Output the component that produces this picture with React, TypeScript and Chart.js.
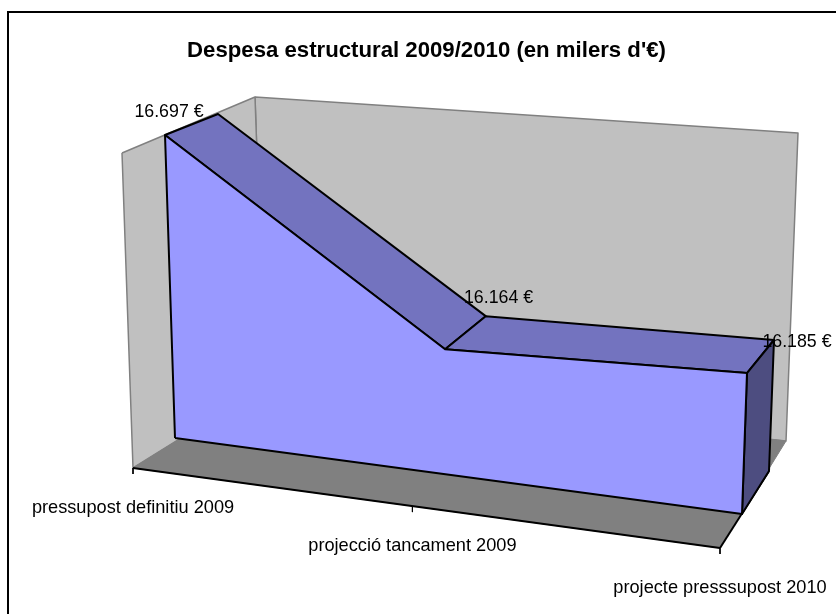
import React, { useEffect, useRef } from "react";
import { Chart, registerables } from "chart.js";

Chart.register(...registerables);

// ---- data ----
const titleText = "Despesa estructural 2009/2010 (en milers d'€)";
const categories = ["pressupost definitiu 2009", "projecció tancament 2009", "projecte presssupost 2010"];
const values = [16697, 16164, 16185];
const valueLabels = ["16.697 €", "16.164 €", "16.185 €"];

// ---- hidden value range of the 3D box ----
const VALUE_BASE = 15825;
const VALUE_TOP = 16800;

// ---- layout of the 3D projection (scale units = page pixels) ----
const CATEGORY_U = [0, 0.476, 1];
const BOX = {
  frontLow: [[175, 438], [742, 514]],
  frontHigh: [[163.82, 99.2], [755.5, 132.2]],
  backLow: [[228, 398], [769, 471]],
  backHigh: [[216.82, 80.4], [782.5, 116.2]],
};
const LABEL_OFFSET = [[4, -23], [53.5, -51], [50, -31]];
const FLOOR_FRONT = [[133, 468], [720, 548]];
const BACK_WALL = [[255, 97], [798, 133], [786, 441], [265, 386]];
const LEFT_WALL = [[122, 153], [255, 97], [265, 386], [133, 468]];
const FLOOR = [[133, 468], [265, 386], [786, 441], [720, 548]];
const FONT = "'Liberation Sans', Arial, sans-serif";

type P = { x: number; y: number };
const lerp = (a: number, b: number, t: number) => a + (b - a) * t;
const lerp2 = (a: number[], b: number[], t: number) => [lerp(a[0], b[0], t), lerp(a[1], b[1], t)];

function project(u: number, value: number, depth: number): P {
  const t = (value - VALUE_BASE) / (VALUE_TOP - VALUE_BASE);
  const low = lerp2(lerp2(BOX.frontLow[0], BOX.frontLow[1], u), lerp2(BOX.backLow[0], BOX.backLow[1], u), depth);
  const high = lerp2(lerp2(BOX.frontHigh[0], BOX.frontHigh[1], u), lerp2(BOX.backHigh[0], BOX.backHigh[1], u), depth);
  const p = lerp2(low, high, t);
  return { x: p[0], y: p[1] };
}

const closed = (pts: P[]) => [...pts, pts[0]];
const fromPairs = (pairs: number[][]) => pairs.map(([x, y]) => ({ x, y }));
const at = (i: number, depth: number) => project(CATEGORY_U[i], values[i], depth);
const base = (i: number, depth: number) => project(CATEGORY_U[i], VALUE_BASE, depth);

function face(label: string, pts: P[], fill: string, stroke: string, width: number) {
  return {
    label,
    data: closed(pts),
    faceColor: fill,
    showLine: true,
    borderColor: stroke,
    borderWidth: width,
    borderJoinStyle: "round",
    pointRadius: 0,
    clip: false,
  };
}

function edge(label: string, pts: P[], stroke: string, width: number) {
  return { label, data: pts, showLine: true, borderColor: stroke, borderWidth: width, pointRadius: 0, clip: false };
}

const GRAY = "#808080";
const TOP = "#7373BF";
const FRONT = "#9999FF";
const SIDE = "#4D4D80";
const INK = "#000000";

function tickBase(i: number): P {
  const p = lerp2(FLOOR_FRONT[0], FLOOR_FRONT[1], CATEGORY_U[i]);
  return { x: p[0], y: p[1] };
}

const layers: any[] = [
  face("back wall", fromPairs(BACK_WALL), "#C0C0C0", GRAY, 1.5),
  face("left wall", fromPairs(LEFT_WALL), "#C0C0C0", GRAY, 1.5),
  face("floor", fromPairs(FLOOR), GRAY, GRAY, 1),
  edge("floor front", fromPairs(FLOOR_FRONT), INK, 2),
  edge("floor right", [{ x: FLOOR_FRONT[1][0], y: FLOOR_FRONT[1][1] }, base(2, 1)], INK, 2),
  ...categories.map((c, i) => edge("tick " + c, [tickBase(i), { x: tickBase(i).x, y: tickBase(i).y + 6 }], INK, 1)),
  face("top 1", [at(0, 0), at(0, 1), at(1, 1), at(1, 0)], TOP, INK, 2),
  face("top 2", [at(1, 0), at(1, 1), at(2, 1), at(2, 0)], TOP, INK, 2),
  face("side", [at(2, 0), at(2, 1), base(2, 1), base(2, 0)], SIDE, INK, 2),
  face("despesa", [base(0, 0), at(0, 0), at(1, 0), at(2, 0), base(2, 0)], FRONT, INK, 2),
];

const facePlugin = {
  id: "faces",
  beforeDatasetDraw(chart: any, args: any) {
    const ds = chart.data.datasets[args.index];
    if (!ds.faceColor) return;
    const pts = args.meta.data;
    const ctx = chart.ctx;
    ctx.save();
    ctx.beginPath();
    pts.forEach((p: any, i: number) => (i ? ctx.lineTo(p.x, p.y) : ctx.moveTo(p.x, p.y)));
    ctx.closePath();
    ctx.fillStyle = ds.faceColor;
    ctx.fill();
    ctx.restore();
  },
  afterDatasetsDraw(chart: any) {
    const { ctx, scales } = chart;
    ctx.save();
    ctx.fillStyle = "#000";
    ctx.textAlign = "center";
    ctx.textBaseline = "middle";
    ctx.font = `17.8px ${FONT}`;
    valueLabels.forEach((text, i) => {
      const a = at(i, 0);
      ctx.fillText(text, scales.x.getPixelForValue(a.x + LABEL_OFFSET[i][0]), scales.y.getPixelForValue(a.y + LABEL_OFFSET[i][1]));
    });
    ctx.font = `18.2px ${FONT}`;
    categories.forEach((text, i) => {
      const t = tickBase(i);
      ctx.fillText(text, scales.x.getPixelForValue(t.x), scales.y.getPixelForValue(t.y + 39.5));
    });
    ctx.restore();
  },
};

export default function App() {
  const ref = useRef<HTMLCanvasElement>(null);
  useEffect(() => {
    const chart = new Chart(ref.current!, {
      type: "scatter",
      data: { datasets: layers.map((d, i) => ({ ...d, order: layers.length - i })) },
      options: {
        animation: false,
        responsive: false,
        layout: { padding: { left: 17, right: 0, top: 0, bottom: 0 } },
        scales: {
          x: { type: "linear", min: 17, max: 836, display: false },
          y: { type: "linear", reverse: true, min: 62, max: 614, display: false },
        },
        plugins: {
          legend: { display: false },
          tooltip: { enabled: false },
          title: {
            display: true,
            text: titleText,
            fullSize: false,
            color: "#000",
            font: { family: FONT, size: 22.2, weight: "bold", lineHeight: 1 },
            padding: { top: 39.8, bottom: 0 },
          },
        },
      },
      plugins: [facePlugin],
    } as any);
    return () => chart.destroy();
  }, []);
  return (
    <div style={{ position: "absolute", left: 0, top: 0, width: 836, height: 614, overflow: "hidden", background: "#fff" }}>
      <div style={{ position: "absolute", left: 7, top: 11, width: 829, height: 603, borderLeft: "2px solid #000", borderTop: "2px solid #000" }} />
      <canvas ref={ref} width={836} height={614} style={{ position: "absolute", left: 0, top: 0, display: "block" }} />
    </div>
  );
}
